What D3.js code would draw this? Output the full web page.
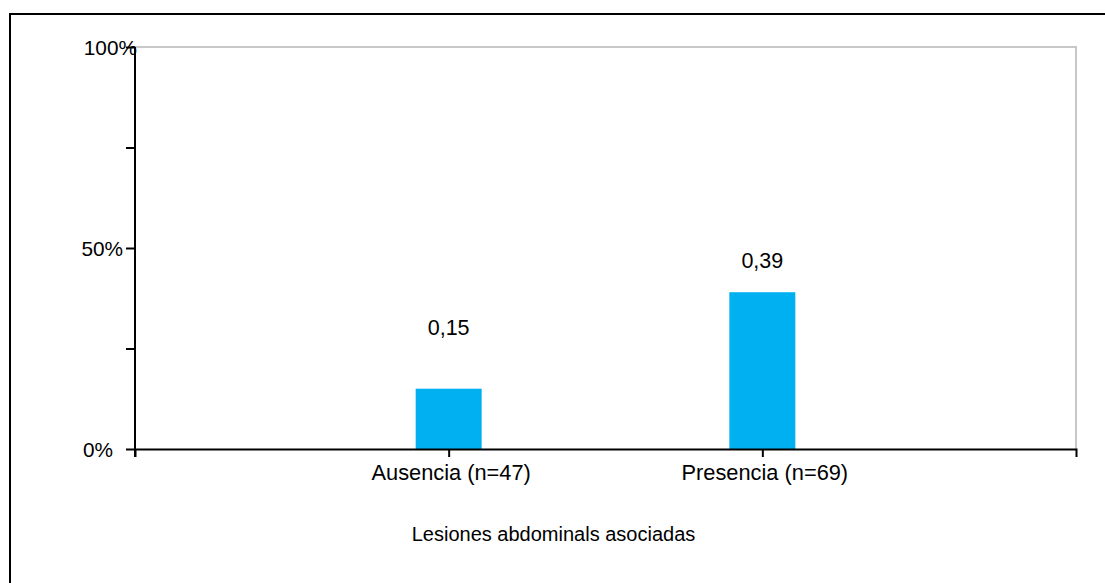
<!DOCTYPE html>
<html>
<head>
<meta charset="utf-8">
<script src="https://cdn.jsdelivr.net/npm/d3@7"></script>
<style>
  html, body { margin: 0; padding: 0; background: #fff; }
  svg { display: block; font-family: "Liberation Sans", Arial, sans-serif; }
</style>
</head>
<body>
<svg id="chart" width="1105" height="583"></svg>
<script>
// Data
const categories = ["Ausencia (n=47)", "Presencia (n=69)"];
const values = [0.15, 0.39];
const valueLabels = ["0,15", "0,39"];
const yTicks = [0, 0.25, 0.5, 0.75, 1];
const yTickLabels = ["0%", "", "50%", "", "100%"];
const axisTitle = "Lesiones abdominals asociadas";

const svg = d3.select("#chart");
const plot = { left: 135, right: 1076, top: 47, bottom: 449 };

// Outer frame (runs past the right and bottom edges)
svg.append("rect")
  .attr("x", 10).attr("y", 14)
  .attr("width", 1110).attr("height", 590)
  .attr("fill", "none").attr("stroke", "#000").attr("stroke-width", 2);

const x = d3.scalePoint().domain(categories)
  .range([plot.left, plot.right]).padding(1);
const y = d3.scaleLinear().domain([0, 1]).range([plot.bottom, plot.top]);

// Plot-area border (top and right, light grey)
svg.append("path")
  .attr("d", `M${plot.left},${plot.top}H${plot.right}V${plot.bottom}`)
  .attr("fill", "none").attr("stroke", "#c8c8c8").attr("stroke-width", 2);

// Bars
const barW = 66;
svg.append("g").selectAll("rect").data(values).join("rect")
  .attr("x", (d, i) => x(categories[i]) - barW / 2)
  .attr("y", d => y(d))
  .attr("width", barW)
  .attr("height", d => y(0) - y(d))
  .attr("fill", "#00b0f0");

// Value labels
const labelLift = [54, 24];
svg.append("g").selectAll("text").data(values).join("text")
  .attr("x", (d, i) => x(categories[i]))
  .attr("y", (d, i) => y(d) - labelLift[i])
  .attr("text-anchor", "middle")
  .attr("font-size", 21.5)
  .attr("fill", "#000")
  .text((d, i) => valueLabels[i]);

// Y axis
const yAxis = svg.append("g")
  .attr("transform", `translate(${plot.left},0)`)
  .call(d3.axisLeft(y).tickValues(yTicks)
    .tickFormat((d, i) => yTickLabels[i])
    .tickSize(9).tickSizeOuter(0));
yAxis.select(".domain").attr("stroke", "#000").attr("stroke-width", 2)
  .attr("d", `M0,${plot.top}V${plot.bottom + 8}`);
yAxis.selectAll(".tick line").attr("stroke", "#000").attr("stroke-width", 2);
const yLabelEnd = { 0: -22, 0.5: -12, 1: 2 };
yAxis.selectAll(".tick text")
  .attr("font-size", 20.8).attr("font-family", "Liberation Sans, Arial, sans-serif")
  .attr("fill", "#000")
  .attr("x", d => yLabelEnd[d] !== undefined ? yLabelEnd[d] : -12)
  .attr("dy", "0.36em");

// X axis
const xAxis = svg.append("g")
  .attr("transform", `translate(0,${plot.bottom})`)
  .call(d3.axisBottom(x).tickSize(8).tickSizeOuter(8));
xAxis.select(".domain").attr("stroke", "#000").attr("stroke-width", 2);
xAxis.selectAll(".tick line").attr("stroke", "#000").attr("stroke-width", 2);
xAxis.selectAll(".tick text")
  .attr("font-size", 21.8).attr("font-family", "Liberation Sans, Arial, sans-serif")
  .attr("fill", "#000")
  .attr("y", 0).attr("dy", 0)
  .attr("transform", "translate(2,31)");

// Axis title
svg.append("text")
  .attr("x", (plot.left + plot.right) / 2 - 52)
  .attr("y", 541)
  .attr("text-anchor", "middle")
  .attr("font-size", 20)
  .attr("fill", "#000")
  .text(axisTitle);
</script>
</body>
</html>
